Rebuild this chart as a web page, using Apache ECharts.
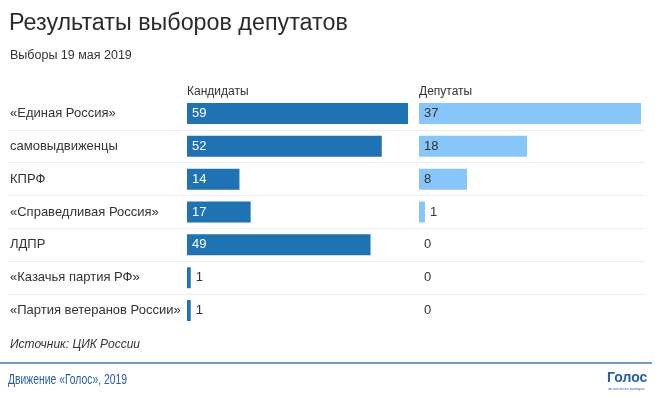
<!DOCTYPE html>
<html>
<head>
<meta charset="utf-8">
<script src="https://cdn.jsdelivr.net/npm/echarts@6/dist/echarts.min.js"></script>
<style>
  html, body { margin: 0; padding: 0; background: #fff; }
  #chart { width: 655px; height: 396px; }
</style>
</head>
<body>
<div id="chart"></div>
<script>
  // партии
  var parties = ['«Единая Россия»', 'самовыдвиженцы', 'КПРФ', '«Справедливая Россия»', 'ЛДПР', '«Казачья партия РФ»', '«Партия ветеранов России»'];
  // кандидаты и депутаты
  var candidates = [59, 52, 14, 17, 49, 1, 1];
  var deputies = [37, 18, 8, 1, 0, 0, 0];

  var darkBlue = '#1f73b3';
  var lightBlue = '#88c6f9';
  var font = 'Liberation Sans, Arial, sans-serif';

  // подпись внутри столбца, если он достаточно широкий
  function withLabels(values, insideColor) {
    return values.map(function (v) {
      var inside = v >= 5;
      return {
        value: v,
        label: {
          show: true,
          position: inside ? 'insideLeft' : 'right',
          distance: 5,
          color: inside ? insideColor : '#333',
          fontSize: 13,
          fontFamily: font
        }
      };
    });
  }

  function txt(text, left, top, style) {
    return {
      text: text, left: left, top: top, padding: 0,
      textStyle: Object.assign({ fontSize: 12, fontWeight: 'normal', color: '#333', fontFamily: font }, style)
    };
  }

  var myChart = echarts.init(document.getElementById('chart'), null, { renderer: 'canvas' });

  myChart.setOption({
    backgroundColor: '#fff',
    animation: false,
    title: [
      txt('Результаты выборов депутатов', 9, 12, { fontSize: 23.3, color: '#2b2b2b' }),
      txt('Выборы 19 мая 2019', 10, 49, { fontSize: 12.5 }),
      txt('Кандидаты', 187, 86, {}),
      txt('Депутаты', 419, 86, {}),
      txt('Источник: ЦИК России', 10, 339, { fontStyle: 'italic' }),
      txt('Голос', 607, 371, { fontSize: 14, fontWeight: 'bold', color: '#2a5fa5' }),
      txt('за честные выборы', 608, 387, { fontSize: 4, color: '#2a5fa5' })
    ],
    graphic: [
      { type: 'line', shape: { x1: 0, y1: 363, x2: 652, y2: 363 }, style: { stroke: '#7399c8', lineWidth: 2 } },
      {
        type: 'text', x: 8, y: 380, scaleX: 0.74,
        style: { text: 'Движение «Голос», 2019', fill: '#2a5fa5', font: '14px Liberation Sans, Arial, sans-serif', verticalAlign: 'middle' }
      }
    ],
    grid: [
      { left: 187, top: 97, width: 221, height: 230 },
      { left: 419, top: 97, width: 222, height: 230 },
      { left: 8, top: 97, width: 637, height: 230 }
    ],
    xAxis: [
      { type: 'value', gridIndex: 0, min: 0, max: 59, show: false },
      { type: 'value', gridIndex: 1, min: 0, max: 37, show: false },
      { type: 'value', gridIndex: 2, min: 0, max: 1, show: false }
    ],
    yAxis: [
      {
        type: 'category', gridIndex: 0, inverse: true, data: parties,
        axisLine: { show: false }, axisTick: { show: false },
        axisLabel: { margin: 177, align: 'left', fontSize: 13, color: '#333', fontFamily: font }
      },
      { type: 'category', gridIndex: 1, inverse: true, data: parties, show: false },
      {
        type: 'category', gridIndex: 2, inverse: true, data: parties,
        axisLine: { show: false }, axisTick: { show: false }, axisLabel: { show: false },
        splitLine: { show: true, showMinLine: false, showMaxLine: false, lineStyle: { color: '#ececec', width: 1 } }
      }
    ],
    series: [
      {
        name: 'Кандидаты', type: 'bar', xAxisIndex: 0, yAxisIndex: 0,
        barWidth: 21, itemStyle: { color: darkBlue },
        data: withLabels(candidates, '#fff')
      },
      {
        name: 'Депутаты', type: 'bar', xAxisIndex: 1, yAxisIndex: 1,
        barWidth: 21, itemStyle: { color: lightBlue },
        data: withLabels(deputies, '#333')
      }
    ]
  });
</script>
</body>
</html>
